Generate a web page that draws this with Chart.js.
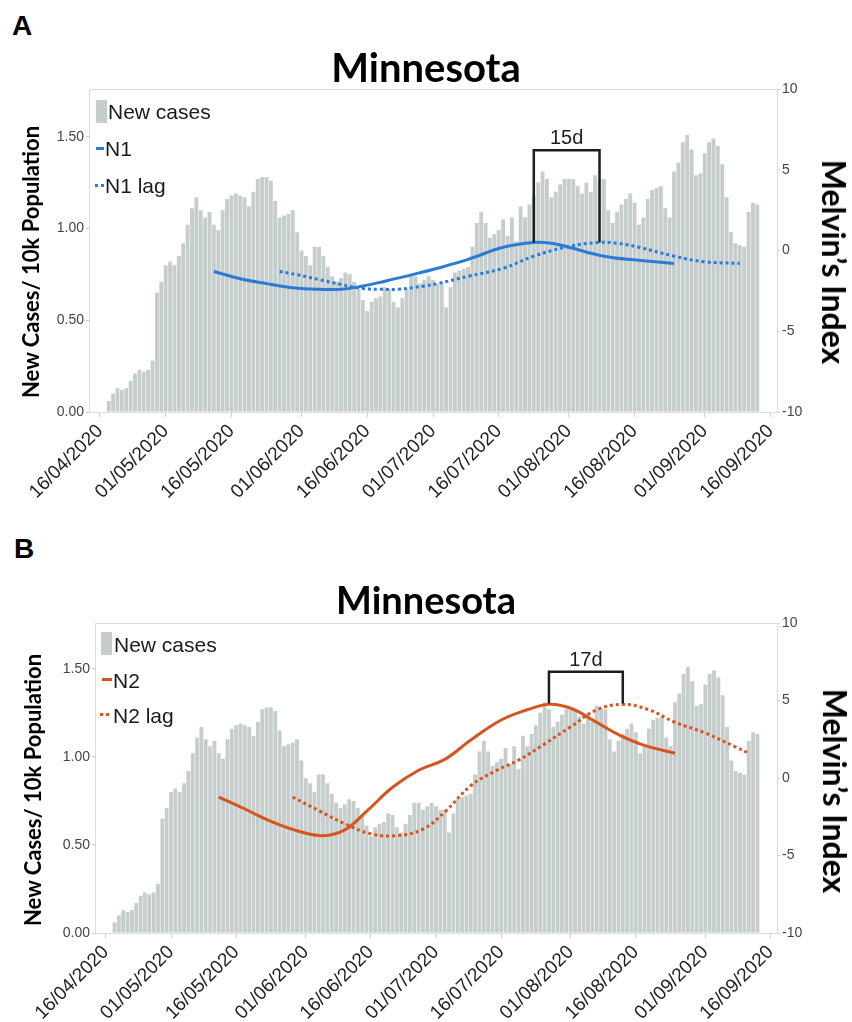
<!DOCTYPE html>
<html>
<head>
<meta charset="utf-8">
<script src="https://cdn.jsdelivr.net/npm/chart.js@4.4.0/dist/chart.umd.min.js"></script>
<style>
  html, body { margin: 0; padding: 0; background: #fff; }
  #page { position: relative; width: 852px; height: 1022px; overflow: hidden; font-family: 'Liberation Sans', Arial, sans-serif; }
  .panel { position: absolute; left: 0; width: 852px; }
  .letter { position: absolute; font-weight: bold; line-height: 1; color: #000; }
  .leg { position: absolute; font-size: 21px; line-height: 1; color: #1a1a1a; white-space: nowrap; }
  .sw { position: absolute; }
  .axt { position: absolute; font-family: Lato, sans-serif; font-weight: bold; line-height: 1; color: #000; white-space: nowrap; }
  .axt.left { font-size: 22px; transform: translate(-50%, -50%) rotate(-90deg); }
  .axt.right { font-size: 32px; transform: translate(-50%, -50%) rotate(90deg); }
</style>
</head>
<body>
<div id="page">
  <div class="letter" style="left:12px;top:12px;font-size:28px">A</div>
  <div class="panel" style="top:0;height:510px"><canvas id="chartA"></canvas></div>

  <div class="letter" style="left:14px;top:535px;font-size:28px">B</div>
  <div class="panel" style="top:520px;height:502px"><canvas id="chartB"></canvas></div>

  <!-- axis titles -->
  <div class="axt left" style="left:31px;top:262px">New Cases/ 10k Population</div>
  <div class="axt right" style="left:834px;top:262px">Melvin’s Index</div>
  <div class="axt left" style="left:33px;top:790px">New Cases/ 10k Population</div>
  <div class="axt right" style="left:835px;top:791px">Melvin’s Index</div>

  <!-- legends sit inside the plot area -->
  <div class="sw" style="left:96px;top:100px;width:11px;height:23px;background:#c5cecd"></div>
  <div class="leg" style="left:108px;top:101px">New cases</div>
  <div class="sw" style="left:96px;top:147px;width:8px;height:3px;background:#2b7bd6"></div>
  <div class="leg" style="left:105px;top:138px">N1</div>
  <div class="sw" style="left:95px;top:184px;width:9px;height:3px;background:repeating-linear-gradient(90deg,#2b7bd6 0 3px,transparent 3px 6px)"></div>
  <div class="leg" style="left:105px;top:175px">N1 lag</div>

  <div class="sw" style="left:101px;top:632px;width:11px;height:23px;background:#c5cecd"></div>
  <div class="leg" style="left:114px;top:634px">New cases</div>
  <div class="sw" style="left:102px;top:678px;width:10px;height:3px;background:#d8541f"></div>
  <div class="leg" style="left:113px;top:670px">N2</div>
  <div class="sw" style="left:100px;top:713px;width:12px;height:3px;background:repeating-linear-gradient(90deg,#d8541f 0 3px,transparent 3px 6px)"></div>
  <div class="leg" style="left:113px;top:705px">N2 lag</div>
</div>

<script>
// x axis runs one category per day, 14/04/2020 .. 17/09/2020
const dateLabels = [];
for (let k = 0; k < 157; k++) {
  const d = new Date(2020, 3, 14 + k);
  dateLabels.push(String(d.getDate()).padStart(2, '0') + '/' + String(d.getMonth() + 1).padStart(2, '0') + '/2020');
}

// daily new cases per 10k, first bar on 18/04/2020
const casesStart = '18/04/2020';
const newCases = [
  0.06, 0.10, 0.13, 0.12, 0.13, 0.17, 0.21, 0.23, 0.22, 0.23,
  0.28, 0.65, 0.71, 0.80, 0.82, 0.80, 0.85, 0.92, 1.02, 1.11,
  1.17, 1.10, 1.06, 1.09, 1.02, 0.99, 1.10, 1.16, 1.18, 1.19,
  1.18, 1.17, 1.12, 1.20, 1.27, 1.28, 1.28, 1.26, 1.15, 1.06,
  1.07, 1.08, 1.10, 0.98, 0.88, 0.85, 0.80, 0.90, 0.90, 0.85,
  0.79, 0.74, 0.71, 0.73, 0.76, 0.75, 0.71, 0.67, 0.61, 0.55,
  0.60, 0.62, 0.63, 0.68, 0.67, 0.60, 0.57, 0.62, 0.67, 0.74,
  0.74, 0.70, 0.72, 0.74, 0.72, 0.70, 0.70, 0.57, 0.68, 0.76,
  0.77, 0.78, 0.79, 0.90, 1.03, 1.09, 1.03, 0.95, 0.97, 0.99,
  1.05, 0.96, 1.06, 0.93, 1.12, 1.06, 1.13, 1.18, 1.25, 1.31,
  1.27, 1.17, 1.20, 1.24, 1.27, 1.27, 1.27, 1.23, 1.19, 1.25,
  1.20, 1.29, 1.27, 1.27, 1.10, 1.03, 1.09, 1.13, 1.16, 1.19,
  1.14, 1.02, 1.06, 1.16, 1.21, 1.22, 1.23, 1.11, 1.06, 1.31,
  1.36, 1.47, 1.51, 1.43, 1.29, 1.30, 1.41, 1.47, 1.49, 1.45,
  1.35, 1.17, 0.98, 0.92, 0.91, 0.90, 1.09, 1.14, 1.13
];

// Melvin's index, N1 (panel A)
const n1Dates = ['12/05/2020', '18/05/2020', '24/05/2020', '30/05/2020', '05/06/2020', '10/06/2020',
  '15/06/2020', '20/06/2020', '27/06/2020', '02/07/2020', '09/07/2020', '17/07/2020', '24/07/2020',
  '28/07/2020', '01/08/2020', '09/08/2020', '17/08/2020', '25/08/2020'];
const n1Values = [-1.3, -1.75, -2.05, -2.3, -2.4, -2.4, -2.2, -1.9, -1.45, -1.1, -0.55, 0.2, 0.5,
  0.45, 0.2, -0.35, -0.6, -0.8];

const n1LagDates = ['27/05/2020', '31/05/2020', '05/06/2020', '10/06/2020', '15/06/2020', '19/06/2020',
  '23/06/2020', '29/06/2020', '02/07/2020', '09/07/2020', '17/07/2020', '24/07/2020', '01/08/2020',
  '08/08/2020', '12/08/2020', '17/08/2020', '25/08/2020', '01/09/2020', '09/09/2020'];
const n1LagValues = [-1.3, -1.5, -1.8, -2.1, -2.35, -2.4, -2.4, -2.2, -2.05, -1.6, -1.1, -0.35, 0.25,
  0.5, 0.45, 0.2, -0.35, -0.7, -0.8];

// Melvin's index, N2 (panel B)
const n2Dates = ['12/05/2020', '18/05/2020', '24/05/2020', '30/05/2020', '05/06/2020', '10/06/2020',
  '15/06/2020', '21/06/2020', '27/06/2020', '03/07/2020', '09/07/2020', '16/07/2020', '22/07/2020',
  '27/07/2020', '01/08/2020', '06/08/2020', '12/08/2020', '18/08/2020', '25/08/2020'];
const n2Values = [-1.23, -2.0, -2.8, -3.4, -3.72, -3.35, -2.15, -0.6, 0.5, 1.2, 2.45, 3.74, 4.4,
  4.75, 4.5, 3.75, 2.8, 2.1, 1.6];

const n2LagDates = ['29/05/2020', '04/06/2020', '10/06/2020', '16/06/2020', '22/06/2020', '28/06/2020',
  '03/07/2020', '09/07/2020', '15/07/2020', '20/07/2020', '26/07/2020', '01/08/2020', '07/08/2020',
  '13/08/2020', '19/08/2020', '25/08/2020', '01/09/2020', '08/09/2020', '11/09/2020'];
const n2LagValues = [-1.23, -2.1, -2.95, -3.6, -3.72, -3.3, -2.2, -0.5, 0.5, 1.15, 2.2, 3.3, 4.4,
  4.75, 4.4, 3.6, 2.9, 2.0, 1.6];

const barColor = '#c5cecd';
const blue = '#2b7bd6';
const orange = '#d8541f';

Chart.defaults.font.family = "'Liberation Sans', Arial, sans-serif";

// bracket showing the lag between the two peaks
const lagBracket = {
  id: 'lagBracket',
  afterDatasetsDraw(chart, args, opts) {
    if (!opts.label) return;
    const {ctx, scales} = chart;
    const x1 = scales.x.getPixelForValue(dateLabels.indexOf(opts.from));
    const x2 = scales.x.getPixelForValue(dateLabels.indexOf(opts.to));
    const yTop = scales.y2.getPixelForValue(opts.top);
    ctx.save();
    ctx.strokeStyle = '#1e1e1e';
    ctx.lineWidth = 2.5;
    ctx.beginPath();
    ctx.moveTo(x1, scales.y2.getPixelForValue(opts.leftEnd));
    ctx.lineTo(x1, yTop);
    ctx.lineTo(x2, yTop);
    ctx.lineTo(x2, scales.y2.getPixelForValue(opts.rightEnd));
    ctx.stroke();
    ctx.fillStyle = '#1e1e1e';
    ctx.font = "20px 'Liberation Sans', Arial";
    ctx.textAlign = 'center';
    ctx.textBaseline = 'alphabetic';
    ctx.fillText(opts.label, (x1 + x2) / 2, yTop - 6);
    ctx.restore();
  }
};

function toPoints(dates, values) {
  return dates.map((d, k) => ({x: d, y: values[k]}));
}

function buildChart(id, o) {
  const offset = dateLabels.indexOf(casesStart);
  const barData = dateLabels.map((d, k) => {
    const v = newCases[k - offset];
    return v === undefined ? null : v;
  });

  new Chart(document.getElementById(id), {
    type: 'bar',
    data: {
      labels: dateLabels,
      datasets: [
        {
          label: 'New cases',
          data: barData,
          backgroundColor: barColor,
          barPercentage: 0.88,
          categoryPercentage: 1.0,
          yAxisID: 'y',
          order: 2
        },
        {
          type: 'line',
          label: o.name,
          data: toPoints(o.dates, o.values),
          borderColor: o.color,
          borderWidth: 3,
          pointRadius: 0,
          tension: 0.4,
          yAxisID: 'y2',
          order: 1
        },
        {
          type: 'line',
          label: o.name + ' lag',
          data: toPoints(o.lagDates, o.lagValues),
          borderColor: o.color,
          borderWidth: 3,
          borderDash: [3, 3],
          pointRadius: 0,
          tension: 0.4,
          yAxisID: 'y2',
          order: 1
        }
      ]
    },
    options: {
      responsive: true,
      maintainAspectRatio: false,
      animation: false,
      layout: { padding: 0 },
      plugins: {
        legend: { display: false },
        tooltip: { enabled: false },
        title: {
          display: true,
          text: 'Minnesota',
          color: '#000',
          font: { family: 'Lato', weight: 'bold', size: o.titleSize, lineHeight: 1 },
          padding: o.titlePad
        },
        lagBracket: o.bracket
      },
      scales: {
        x: {
          type: 'category',
          offset: true,
          grid: { drawOnChartArea: false, drawTicks: true, tickLength: 5, color: '#cfcfcf', offset: false },
          border: { color: '#dcdcdc' },
          ticks: {
            autoSkip: false,
            minRotation: 45,
            maxRotation: 45,
            padding: 3,
            color: '#222',
            font: { size: 19 },
            callback(val) {
              const l = this.getLabelForValue(val);
              return (l.startsWith('01/') || l.startsWith('16/')) ? l : null;
            }
          },
          afterFit(s) { s.height = o.xHeight; }
        },
        y: {
          position: 'left',
          min: 0,
          max: 1.76,
          grid: { drawOnChartArea: false, tickLength: 3, color: '#cfcfcf' },
          border: { color: '#dcdcdc' },
          ticks: {
            stepSize: 0.5,
            includeBounds: false,
            padding: 2,
            color: '#444',
            font: { size: 14 },
            callback: v => v.toFixed(2)
          },
          afterFit(s) { s.width = o.leftWidth; }
        },
        y2: {
          position: 'right',
          min: -10,
          max: 10,
          grid: {
            drawOnChartArea: true,
            tickLength: 3,
            tickColor: '#cfcfcf',
            color: c => (c.tick && c.tick.value === 10) ? '#dcdcdc' : 'rgba(0,0,0,0)'
          },
          border: { color: '#dcdcdc' },
          ticks: { stepSize: 5, padding: 2, color: '#444', font: { size: 14 } },
          afterFit(s) { s.width = o.rightWidth; }
        }
      }
    },
    plugins: [lagBracket]
  });
}

function drawAll() {
  buildChart('chartA', {
    name: 'N1', color: blue,
    dates: n1Dates, values: n1Values, lagDates: n1LagDates, lagValues: n1LagValues,
    titleSize: 40, titlePad: { top: 49, bottom: 0 },
    leftWidth: 89, rightWidth: 75, xHeight: 98,
    bracket: { from: '24/07/2020', to: '08/08/2020', top: 6.2, leftEnd: 0.5, rightEnd: 0.5, label: '15d' }
  });
  buildChart('chartB', {
    name: 'N2', color: orange,
    dates: n2Dates, values: n2Values, lagDates: n2LagDates, lagValues: n2LagValues,
    titleSize: 38, titlePad: { top: 63, bottom: 2 },
    leftWidth: 95, rightWidth: 75, xHeight: 89,
    bracket: { from: '27/07/2020', to: '13/08/2020', top: 6.85, leftEnd: 4.8, rightEnd: 4.8, label: '17d' }
  });
}

Promise.all([
  document.fonts.load("bold 40px Lato"),
  document.fonts.load("21px 'Liberation Sans'")
]).then(drawAll, drawAll);
</script>
</body>
</html>
